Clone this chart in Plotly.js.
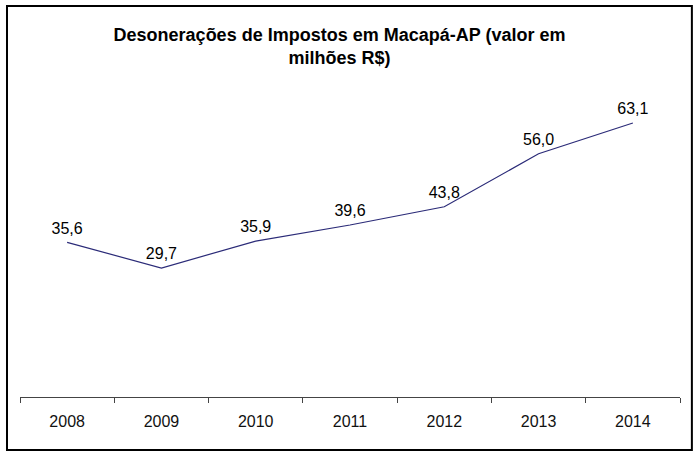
<!DOCTYPE html>
<html>
<head>
<meta charset="utf-8">
<script src="https://cdn.plot.ly/plotly-3.0.1.min.js"></script>
<style>
html,body{margin:0;padding:0;background:#fff;}
#chart{width:700px;height:457px;}
</style>
</head>
<body>
<div id="chart"></div>
<script>
const years = ["2008", "2009", "2010", "2011", "2012", "2013", "2014"];
const values = [35.6, 29.7, 35.9, 39.6, 43.8, 56.0, 63.1];
const labels = ["35,6", "29,7", "35,9", "39,6", "43,8", "56,0", "63,1"];
const titleText = "Desonerações de Impostos em Macapá-AP (valor em<br>milhões R$)";

const trace = {
  x: years,
  y: values,
  type: "scatter",
  mode: "lines+markers+text",
  text: labels,
  textposition: "top center",
  textfont: {family: "Liberation Sans, Arial, sans-serif", size: 16, color: "#000"},
  marker: {size: 6, color: "rgba(0,0,0,0)", line: {width: 0}},
  line: {color: "#2b2b78", width: 1.2},
  hoverinfo: "skip",
  cliponaxis: false
};

const layout = {
  width: 700,
  height: 457,
  margin: {l: 20, r: 20, t: 93, b: 60},
  paper_bgcolor: "#fff",
  plot_bgcolor: "#fff",
  showlegend: false,
  title: {
    text: titleText,
    font: {family: "Liberation Sans, Arial, sans-serif", size: 18, color: "#000", weight: "bold"},
    x: 0.485,
    xanchor: "center",
    y: 0.911,
    yanchor: "middle"
  },
  xaxis: {
    type: "category",
    range: [-0.5, 6.5],
    showgrid: false,
    zeroline: false,
    showline: true,
    linecolor: "#444",
    linewidth: 1,
    ticks: "outside",
    tickson: "boundaries",
    ticklen: 5,
    tickcolor: "#444",
    tickwidth: 1,
    ticklabelstandoff: 10,
    tickfont: {family: "Liberation Sans, Arial, sans-serif", size: 16, color: "#111"},
    fixedrange: true
  },
  yaxis: {
    range: [0, 70],
    visible: false,
    showgrid: false,
    zeroline: false,
    fixedrange: true
  },
  shapes: [{
    type: "rect",
    xref: "paper", yref: "paper",
    x0: -0.0197, x1: 1.018,
    y0: -0.174, y1: 1.286,
    line: {color: "#000", width: 2},
    fillcolor: "rgba(0,0,0,0)",
    layer: "above"
  }]
};

Plotly.newPlot("chart", [trace], layout, {displayModeBar: false, staticPlot: true});
</script>
</body>
</html>
